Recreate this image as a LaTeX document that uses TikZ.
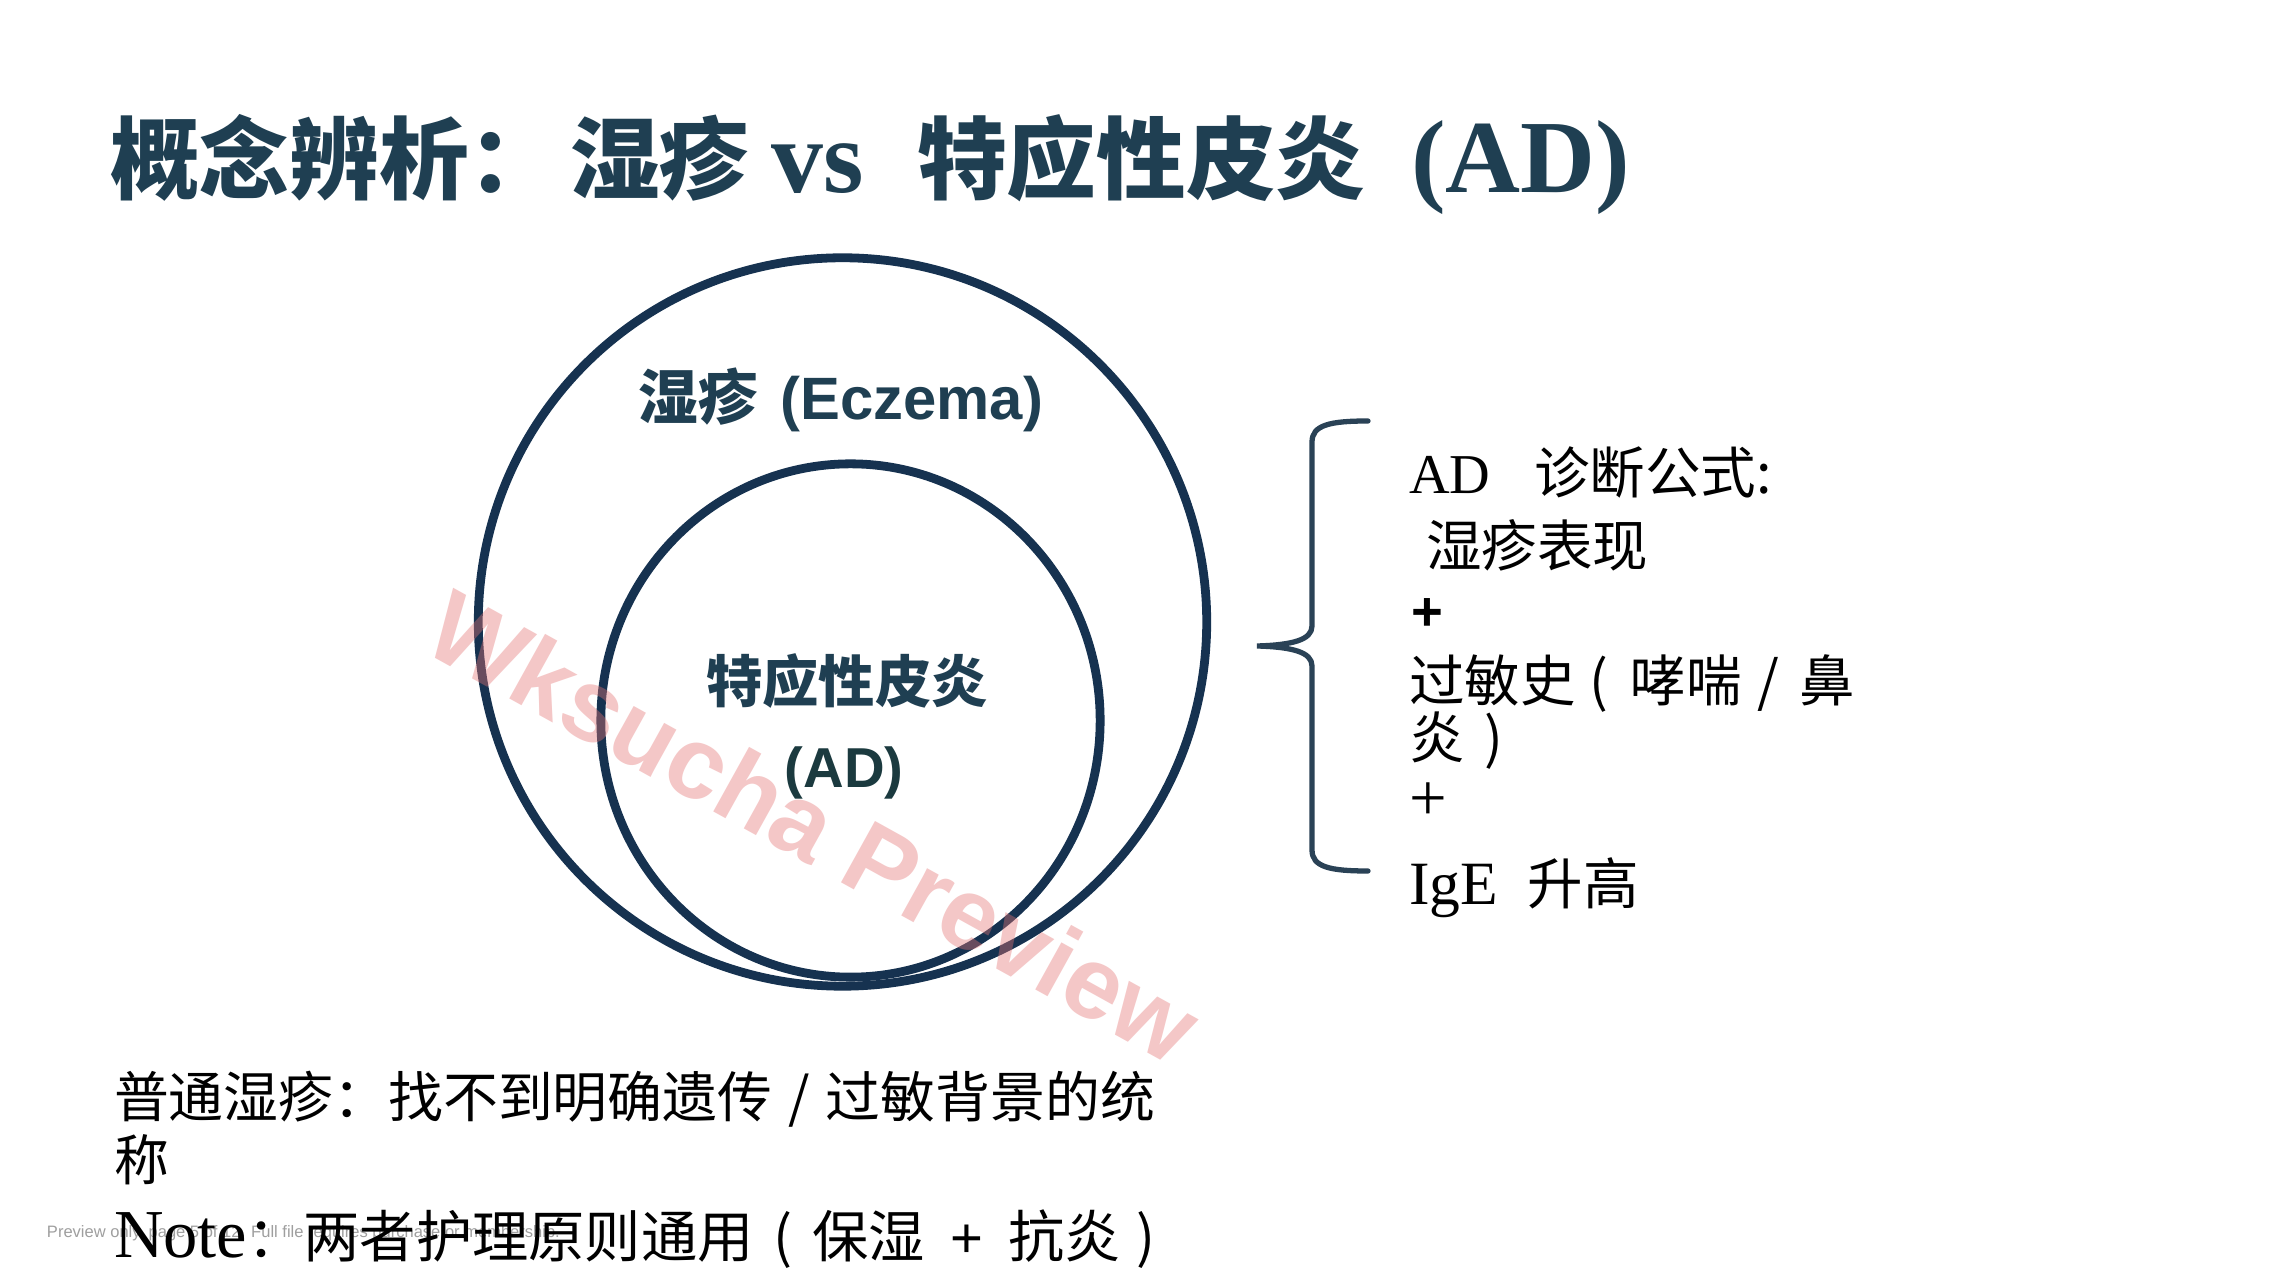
\documentclass[tikz,border=0pt]{standalone}
\usepackage{fontspec}
\setmainfont{Liberation Serif}
\newfontfamily\cjk{Noto Sans CJK SC}
\newfontfamily\sansf{Liberation Sans}
\usetikzlibrary{shapes.geometric}
\definecolor{titlec}{HTML}{1F3F52}
\definecolor{ringc}{HTML}{163250}
\definecolor{bracec}{HTML}{2A4256}
\definecolor{adc}{HTML}{1B3A3F}
\definecolor{wmc}{HTML}{E57373}
\begin{document}
\begin{tikzpicture}[x=0.01cm,y=-0.01cm,
  txt/.style={inner sep=0pt, outer sep=0pt},
  ring/.style={draw=ringc, line width=2.5pt, inner sep=0pt, outer sep=0pt},
  rbody/.style={txt, anchor=base west, font=\cjk\fontsize{15.8}{18}\selectfont},
  bbody/.style={txt, anchor=base west, font=\cjk\fontsize{15.6}{19}\selectfont},
  clabel/.style={txt, anchor=base, text=titlec, font=\cjk\bfseries\fontsize{16}{19}\selectfont}]
\fill[white] (0,0) rectangle (2294,1280);
\useasboundingbox (0,0) rectangle (2294,1280);

% title
\node[txt, anchor=base west, text=titlec] (title) at (110,193)
  {{\cjk\bfseries\fontsize{25.5}{30}\selectfont 概念辨析：\hspace{1.2mm}湿疹}\hspace{2.2mm}{\bfseries\fontsize{29.5}{30}\selectfont vs}\hspace{5.3mm}{\cjk\bfseries\fontsize{25.5}{30}\selectfont 特应性皮炎}\hspace{4.6mm}{\bfseries\fontsize{29.5}{30}\selectfont (AD)}};

% circles
\node[ring, circle, minimum size=7.28cm] (outer) at (842.5,622) {};
\node[ring, ellipse, minimum width=4.99cm, minimum height=5.13cm] (inner) at (850.5,720.5) {};

% circle labels
\node[clabel, font=\cjk\bfseries\fontsize{17}{19}\selectfont] (ecz) at (841,420)
  {湿疹\hspace{2.2mm}{\sansf\bfseries (Eczema)}};
\node[clabel] (ad1) at (847,703) {特应性皮炎};
\node[clabel, text=adc, font=\sansf\bfseries\fontsize{16}{19}\selectfont] (ad2) at (844,788) {(AD)};

% brace
\coordinate (btop) at (1368,421);
\coordinate (btip) at (1257,646);
\coordinate (bbot) at (1368,871);
\draw[bracec, line width=1.5pt, line cap=round]
  (btop) .. controls (1330,421) and (1312,425) .. (1312,442) -- (1312,626)
  .. controls (1312,640) and (1292,645) .. (btip)
  .. controls (1292,647) and (1312,652) .. (1312,666) -- (1312,850)
  .. controls (1312,867) and (1330,871) .. (bbot);

% formula text
\node[rbody] (f1) at (1409,494) {{\rmfamily\fontsize{16}{18}\selectfont AD}\hspace{4.4mm}诊断公式:};
\node[rbody] (f2) at (1426,567) {湿疹表现};
\node[rbody, font=\sansf\bfseries\fontsize{15.5}{18}\selectfont] (f3) at (1411,631) {+};
\node[rbody] (f4) at (1409,702) {过敏史\hspace{1.4mm}(\hspace{2.2mm}哮喘\hspace{1.6mm}/\hspace{2mm}鼻};
\node[rbody] (f5) at (1409,759) {炎\hspace{2mm})};
\node[rbody, font=\rmfamily\fontsize{19}{20}\selectfont] (f6) at (1409,821) {+};
\node[rbody] (f7) at (1409,905) {{\rmfamily\fontsize{17.5}{18}\selectfont IgE}\hspace{3mm}升高};

% bottom text
\node[txt, anchor=base west, text=gray!75, font=\sansf\fontsize{4.7}{5}\selectfont] (prev) at (47,1238)
  {Preview only, page 5 of 12. Full file requires purchase or membership.};
\node[bbody] (b1) at (114,1118) {普通湿疹：找不到明确遗传\hspace{1.6mm}/\hspace{1.6mm}过敏背景的统};
\node[bbody] (b2) at (114,1181) {称};
\node[bbody, font=\cjk\fontsize{16}{19}\selectfont] (b3) at (114,1257) {{\rmfamily\fontsize{19.5}{20}\selectfont Note}：两者护理原则通用\hspace{2mm}(\hspace{2mm}保湿\hspace{2.5mm}{\sansf +}\hspace{2.5mm}抗炎\hspace{1.6mm})};

% watermark
\node[txt, rotate=-29, text=wmc, text opacity=0.4, font=\sansf\bfseries\fontsize{29}{30}\selectfont] (wm) at (814,826) {Wksucha Preview};
\end{tikzpicture}
\end{document}
